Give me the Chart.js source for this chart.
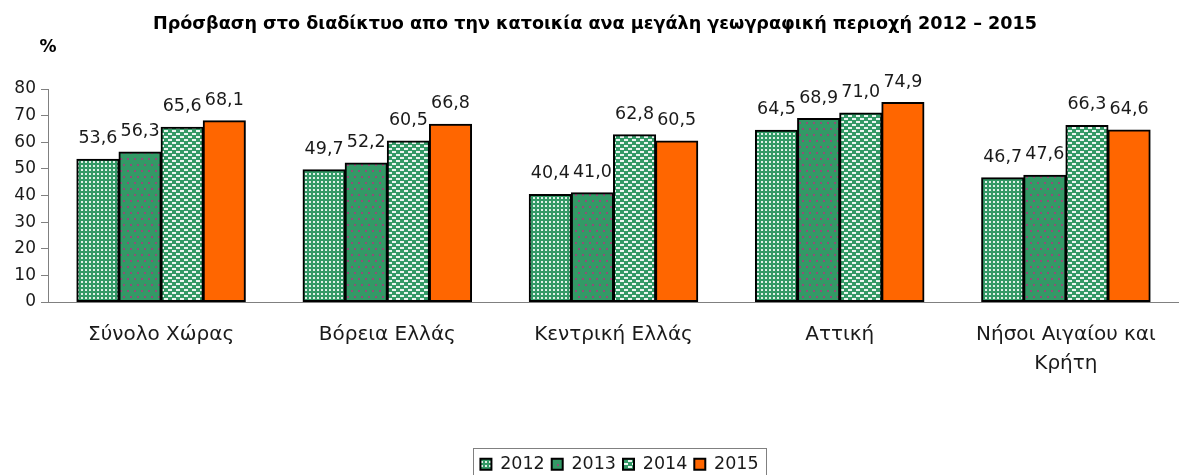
<!DOCTYPE html>
<html>
<head>
<meta charset="utf-8">
<title>Πρόσβαση στο διαδίκτυο</title>
<style>
body{margin:0;background:#fff;}
canvas{display:block;}
</style>
</head>
<body>
<canvas id="chart" width="1179" height="475"></canvas>
<script src="https://cdn.jsdelivr.net/npm/chart.js@4.4.1/dist/chart.umd.min.js"></script>
<script>
// data
var regions = ['Σύνολο Χώρας', 'Βόρεια Ελλάς', 'Κεντρική Ελλάς', 'Αττική', ['Νήσοι Αιγαίου και', 'Κρήτη']];
var years = ['2012', '2013', '2014', '2015'];
var v2012 = [53.6, 49.7, 40.4, 64.5, 46.7];
var v2013 = [56.3, 52.2, 41.0, 68.9, 47.6];
var v2014 = [65.6, 60.5, 62.8, 71.0, 66.3];
var v2015 = [68.1, 66.8, 60.5, 74.9, 64.6];
var yTicks = [0, 10, 20, 30, 40, 50, 60, 70, 80];

var titleText = 'Πρόσβαση στο διαδίκτυο απο την κατοικία ανα μεγάλη γεωγραφική περιοχή 2012 – 2015';
var FONT = 'DejaVu Sans';
var GREEN = '#339966';

// small pattern tiles for the green bars
function tile(w, h, draw) {
	var c = document.createElement('canvas');
	c.width = w; c.height = h;
	var g = c.getContext('2d');
	g.fillStyle = GREEN;
	g.fillRect(0, 0, w, h);
	draw(g);
	return document.getElementById('chart').getContext('2d').createPattern(c, 'repeat');
}
var pat2012 = tile(4, 4, function(g){ g.fillStyle = 'rgba(255,255,255,0.85)'; g.fillRect(1, 1, 2, 2); });
var pat2013 = tile(7, 12, function(g){ g.fillStyle = '#8f4f78'; g.fillRect(1, 2, 2, 2); g.fillRect(4, 8, 2, 2); });
var pat2014 = tile(8, 6, function(g){ g.fillStyle = 'rgba(255,255,255,0.9)'; g.fillRect(0, 1, 4, 2); g.fillRect(4, 4, 4, 2); });

var fills = [pat2012, pat2013, pat2014, '#ff6600'];
var series = [v2012, v2013, v2014, v2015];

var datasets = [];
for (var i = 0; i < years.length; i++) {
	datasets.push({
		label: years[i],
		data: series[i],
		backgroundColor: fills[i],
		borderColor: '#000',
		borderWidth: 2,
		borderSkipped: false,
		inflateAmount: 0.5
	});
}

var LEGEND_DX = 30, LEGEND_DY = 8;

var extras = {
	id: 'extras',
	afterUpdate: function(chart) {
		// nudge the legend to where it sits in the original
		var lg = chart.legend;
		lg.left += LEGEND_DX; lg.right += LEGEND_DX;
		lg.top += LEGEND_DY; lg.bottom += LEGEND_DY;
		lg.legendHitBoxes.forEach(function(b){ b.left += LEGEND_DX; b.top += LEGEND_DY; });
	},
	afterDatasetsDraw: function(chart) {
		var ctx = chart.ctx;
		ctx.save();
		ctx.font = '17.5px "' + FONT + '"';
		ctx.fillStyle = '#1a1a1a';
		ctx.textAlign = 'center';
		ctx.textBaseline = 'alphabetic';
		chart.data.datasets.forEach(function(ds, di) {
			chart.getDatasetMeta(di).data.forEach(function(el, j) {
				ctx.fillText(ds.data[j].toFixed(1).replace('.', ','), el.x, el.y - 16);
			});
		});
		ctx.restore();
	},
	afterDraw: function(chart) {
		var ctx = chart.ctx;
		ctx.save();
		ctx.fillStyle = '#000';
		ctx.textAlign = 'center';
		ctx.textBaseline = 'middle';
		ctx.font = 'bold 17.6px "' + FONT + '"';
		ctx.fillText(titleText, 595, 24);
		ctx.font = 'bold 17px "' + FONT + '"';
		ctx.fillText('%', 48, 48);
		// legend frame
		var boxes = chart.legend.legendHitBoxes;
		var l = Infinity, r = -Infinity, t = Infinity;
		boxes.forEach(function(b){ l = Math.min(l, b.left); r = Math.max(r, b.left + b.width); t = Math.min(t, b.top); });
		ctx.strokeStyle = '#808080';
		ctx.lineWidth = 1;
		ctx.strokeRect(Math.round(l - 7) + 0.5, Math.round(t - 8) + 0.5, Math.round(r - l + 15), 60);
		ctx.restore();
	}
};

new Chart(document.getElementById('chart'), {
	type: 'bar',
	data: {labels: regions, datasets: datasets},
	options: {
		responsive: false,
		animation: false,
		layout: {padding: {top: 89, left: 0, right: 0, bottom: 0}},
		datasets: {bar: {categoryPercentage: 0.745, barPercentage: 1}},
		plugins: {
			title: {display: false},
			tooltip: {enabled: false},
			legend: {
				position: 'bottom',
				labels: {
					boxWidth: 11, boxHeight: 11, padding: 7,
					color: '#1a1a1a',
					font: {family: FONT, size: 17.5}
				}
			}
		},
		scales: {
			x: {
				grid: {display: false},
				border: {display: true, color: '#808080', width: 1},
				ticks: {color: '#1a1a1a', padding: 10, maxRotation: 0, autoSkip: false,
					font: {family: FONT, size: 20, lineHeight: 1.45}},
				afterFit: function(s) {
					var lh = s.chart.legend ? s.chart.legend.height : 0;
					s.height = s.chart.height - 302 - lh;
				}
			},
			y: {
				min: 0, max: 80,
				afterBuildTicks: function(s) { s.ticks = yTicks.map(function(v){ return {value: v}; }); },
				grid: {drawOnChartArea: false, drawTicks: true, tickLength: 7, color: '#808080'},
				border: {display: true, color: '#808080', width: 1},
				ticks: {color: '#1a1a1a', padding: 5, font: {family: FONT, size: 17}},
				afterFit: function(s) { s.width = 48; }
			}
		}
	},
	plugins: [extras]
});
</script>
</body>
</html>
